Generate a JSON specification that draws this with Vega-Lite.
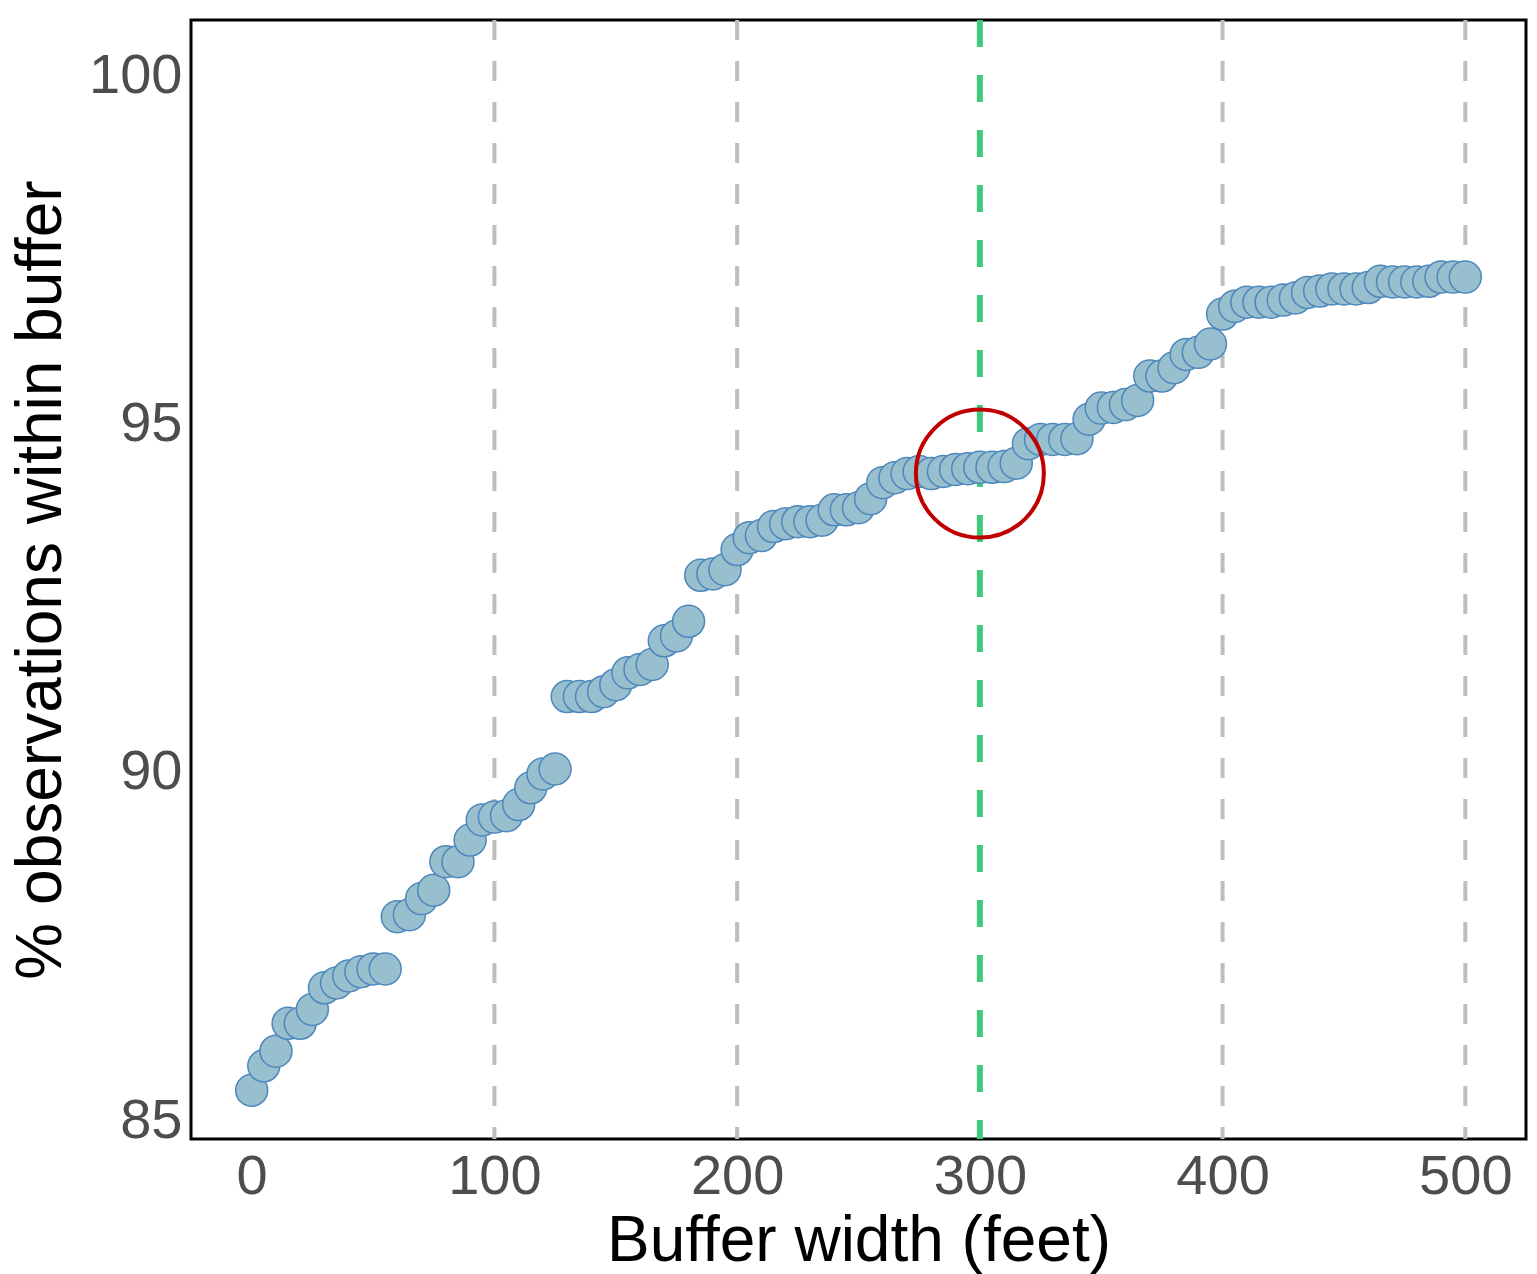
{
  "$schema": "https://vega.github.io/schema/vega-lite/v6.json",
  "width": 1335,
  "height": 1119,
  "autosize": {"type": "none"},
  "padding": {"left": 191, "top": 20, "right": 11, "bottom": 135},
  "background": "white",
  "config": {
    "view": {"stroke": "black", "strokeWidth": 3},
    "font": "Liberation Sans"
  },
  "datasets": {
    "pts": [
      {"x": 0, "y": 85.43}, {"x": 5, "y": 85.78}, {"x": 10, "y": 85.99}, {"x": 15, "y": 86.39}, {"x": 20, "y": 86.39},
      {"x": 25, "y": 86.59}, {"x": 30, "y": 86.9}, {"x": 35, "y": 86.97}, {"x": 40, "y": 87.07}, {"x": 45, "y": 87.13},
      {"x": 50, "y": 87.17}, {"x": 55, "y": 87.17}, {"x": 60, "y": 87.92}, {"x": 65, "y": 87.95}, {"x": 70, "y": 88.18},
      {"x": 75, "y": 88.3}, {"x": 80, "y": 88.71}, {"x": 85, "y": 88.71}, {"x": 90, "y": 89.02}, {"x": 95, "y": 89.31},
      {"x": 100, "y": 89.35}, {"x": 105, "y": 89.37}, {"x": 110, "y": 89.53}, {"x": 115, "y": 89.77}, {"x": 120, "y": 89.97},
      {"x": 125, "y": 90.04}, {"x": 130, "y": 91.08}, {"x": 135, "y": 91.08}, {"x": 140, "y": 91.08}, {"x": 145, "y": 91.15},
      {"x": 150, "y": 91.25}, {"x": 155, "y": 91.42}, {"x": 160, "y": 91.47}, {"x": 165, "y": 91.54}, {"x": 170, "y": 91.88},
      {"x": 175, "y": 91.95}, {"x": 180, "y": 92.16}, {"x": 185, "y": 92.82}, {"x": 190, "y": 92.84}, {"x": 195, "y": 92.9},
      {"x": 200, "y": 93.19}, {"x": 205, "y": 93.36}, {"x": 210, "y": 93.39}, {"x": 215, "y": 93.52}, {"x": 220, "y": 93.56},
      {"x": 225, "y": 93.59}, {"x": 230, "y": 93.59}, {"x": 235, "y": 93.61}, {"x": 240, "y": 93.76}, {"x": 245, "y": 93.76},
      {"x": 250, "y": 93.79}, {"x": 255, "y": 93.92}, {"x": 260, "y": 94.15}, {"x": 265, "y": 94.22}, {"x": 270, "y": 94.28},
      {"x": 275, "y": 94.31}, {"x": 280, "y": 94.28}, {"x": 285, "y": 94.31}, {"x": 290, "y": 94.34}, {"x": 295, "y": 94.35},
      {"x": 300, "y": 94.37}, {"x": 305, "y": 94.37}, {"x": 310, "y": 94.38}, {"x": 315, "y": 94.43}, {"x": 320, "y": 94.71},
      {"x": 325, "y": 94.77}, {"x": 330, "y": 94.77}, {"x": 335, "y": 94.77}, {"x": 340, "y": 94.78}, {"x": 345, "y": 95.06},
      {"x": 350, "y": 95.22}, {"x": 355, "y": 95.23}, {"x": 360, "y": 95.27}, {"x": 365, "y": 95.33}, {"x": 370, "y": 95.68},
      {"x": 375, "y": 95.68}, {"x": 380, "y": 95.8}, {"x": 385, "y": 95.99}, {"x": 390, "y": 96.02}, {"x": 395, "y": 96.14},
      {"x": 400, "y": 96.57}, {"x": 405, "y": 96.68}, {"x": 410, "y": 96.74}, {"x": 415, "y": 96.74}, {"x": 420, "y": 96.74},
      {"x": 425, "y": 96.77}, {"x": 430, "y": 96.8}, {"x": 435, "y": 96.88}, {"x": 440, "y": 96.9}, {"x": 445, "y": 96.93},
      {"x": 450, "y": 96.93}, {"x": 455, "y": 96.93}, {"x": 460, "y": 96.95}, {"x": 465, "y": 97.04}, {"x": 470, "y": 97.03},
      {"x": 475, "y": 97.03}, {"x": 480, "y": 97.03}, {"x": 485, "y": 97.04}, {"x": 490, "y": 97.1}, {"x": 495, "y": 97.1},
      {"x": 500, "y": 97.1}
    ],
    "greyLines": [{"x": 100}, {"x": 200}, {"x": 400}, {"x": 500}],
    "greenLine": [{"x": 300}],
    "highlight": [{"x": 300, "y": 94.28}]
  },
  "layer": [
    {
      "data": {"name": "greyLines"},
      "mark": {"type": "rule", "color": "#bebebe", "strokeWidth": 4, "strokeDash": [20, 21]},
      "encoding": {
        "x": {"field": "x", "type": "quantitative", "scale": {"domain": [-25, 525], "nice": false, "zero": false},
          "axis": {"title": "Buffer width (feet)", "values": [0, 100, 200, 300, 400, 500], "format": "d", "grid": false, "ticks": false, "domain": false,
            "labelFontSize": 56, "labelColor": "#4d4d4d", "labelPadding": 10, "labelFont": "Liberation Sans",
            "titleFontSize": 64, "titleFontWeight": "normal", "titleColor": "black", "titleFont": "Liberation Sans",
            "titleBaseline": "alphabetic", "titleY": 121}}
      }
    },
    {
      "data": {"name": "greenLine"},
      "mark": {"type": "rule", "color": "#3fcb7b", "strokeWidth": 6, "strokeDash": [27, 28]},
      "encoding": {"x": {"field": "x", "type": "quantitative"}}
    },
    {
      "data": {"name": "pts"},
      "mark": {"type": "point", "shape": "circle", "filled": true, "fill": "#97bfcd", "stroke": "#4d87bd", "strokeWidth": 1.5, "opacity": 1, "size": 1024},
      "encoding": {
        "x": {"field": "x", "type": "quantitative"},
        "y": {"field": "y", "type": "quantitative", "scale": {"domain": [84.73, 100.79], "nice": false, "zero": false},
          "axis": {"title": "% observations within buffer", "values": [85, 90, 95, 100], "format": "d", "grid": false, "ticks": false, "domain": false,
            "labelFontSize": 56, "labelColor": "#4d4d4d", "labelPadding": 9, "labelFont": "Liberation Sans",
            "titleFontSize": 64, "titleFontWeight": "normal", "titleColor": "black", "titleFont": "Liberation Sans",
            "titleBaseline": "alphabetic", "titleX": -131, "titleAngle": -90}}
      }
    },
    {
      "data": {"name": "highlight"},
      "mark": {"type": "point", "shape": "circle", "filled": false, "stroke": "#c00000", "strokeWidth": 4, "opacity": 1, "size": 16384},
      "encoding": {
        "x": {"field": "x", "type": "quantitative"},
        "y": {"field": "y", "type": "quantitative"}
      }
    }
  ]
}
